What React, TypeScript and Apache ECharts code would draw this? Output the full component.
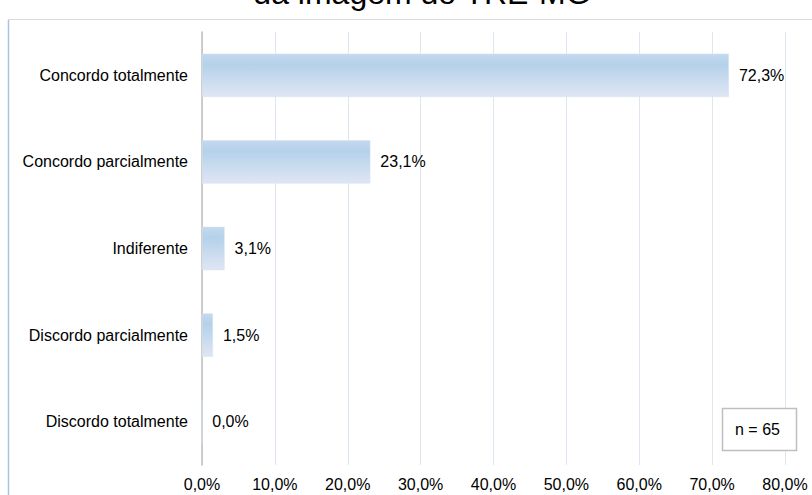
import React, { useEffect, useRef } from "react";
import * as echarts from "echarts";

const categories = [
  "Concordo totalmente",
  "Concordo parcialmente",
  "Indiferente",
  "Discordo parcialmente",
  "Discordo totalmente",
];
const values = [72.3, 23.1, 3.1, 1.5, 0.0];
const titleText = "da imagem do TRE-MG";
const noteText = "n = 65";

const fmt = (v: number) => v.toFixed(1).replace(".", ",") + "%";

export default function App() {
  const ref = useRef<HTMLDivElement>(null);
  useEffect(() => {
    if (!ref.current) return;
    const chart = echarts.init(ref.current, null, { renderer: "svg" });
    const font = "'Liberation Sans', Arial, sans-serif";
    chart.setOption({
      animation: false,
      backgroundColor: "#ffffff",
      textStyle: { fontFamily: font },
      grid: { left: 202, right: 27, top: 32, bottom: 30, containLabel: false },
      xAxis: {
        type: "value",
        min: 0,
        max: 80,
        interval: 10,
        axisLine: { show: false },
        axisTick: { show: false },
        splitLine: { show: true, lineStyle: { color: "#dde6f1", width: 1 } },
        axisLabel: {
          margin: 11,
          fontSize: 16,
          color: "#000",
          fontFamily: font,
          formatter: (v: number) => fmt(v),
        },
      },
      yAxis: {
        type: "category",
        data: categories,
        inverse: true,
        axisLine: { show: true, lineStyle: { color: "#bfbfbf", width: 1.5 } },
        axisTick: { show: false },
        splitLine: { show: false },
        axisLabel: { margin: 14, fontSize: 16, color: "#000", fontFamily: font },
      },
      series: [
        {
          type: "bar",
          data: values,
          barWidth: "50%",
          itemStyle: {
            color: new echarts.graphic.LinearGradient(0, 0, 0, 1, [
              { offset: 0, color: "#c3d9ee" },
              { offset: 0.25, color: "#b5d1ea" },
              { offset: 1, color: "#dfe6f4" },
            ]),
            borderColor: "#d6e2f1",
            borderWidth: 0.5,
          },
          label: {
            show: true,
            position: "right",
            distance: 10,
            fontSize: 16,
            color: "#000",
            fontFamily: font,
            formatter: (p: any) => fmt(p.value),
          },
        },
      ],
      graphic: [
        {
          type: "rect",
          shape: { x: 8.5, y: 19.5, width: 820, height: 500 },
          style: { fill: "none", stroke: "#d9d9d9", lineWidth: 1 },
          z: -1,
        },
        {
          type: "line",
          shape: { x1: 8.5, y1: 20, x2: 8.5, y2: 495 },
          style: { stroke: "#a9c1e3", lineWidth: 1.5 },
        },
        {
          type: "text",
          x: 422,
          y: -7,
          style: {
            text: titleText,
            fontSize: 32,
            fontFamily: font,
            fill: "#000",
            textAlign: "center",
            textVerticalAlign: "middle",
          },
        },
        {
          type: "rect",
          shape: { x: 722.5, y: 408.5, width: 74, height: 42 },
          style: { fill: "#ffffff", stroke: "#bfbfbf", lineWidth: 1.5 },
          z: 10,
        },
        {
          type: "text",
          x: 735,
          y: 429,
          style: {
            text: noteText,
            fontSize: 16,
            fontFamily: font,
            fill: "#000",
            textAlign: "left",
            textVerticalAlign: "middle",
          },
          z: 11,
        },
      ],
    });
    return () => chart.dispose();
  }, []);
  return (
    <div
      ref={ref}
      style={{ position: "fixed", left: 0, top: 0, width: 812, height: 495 }}
    />
  );
}
